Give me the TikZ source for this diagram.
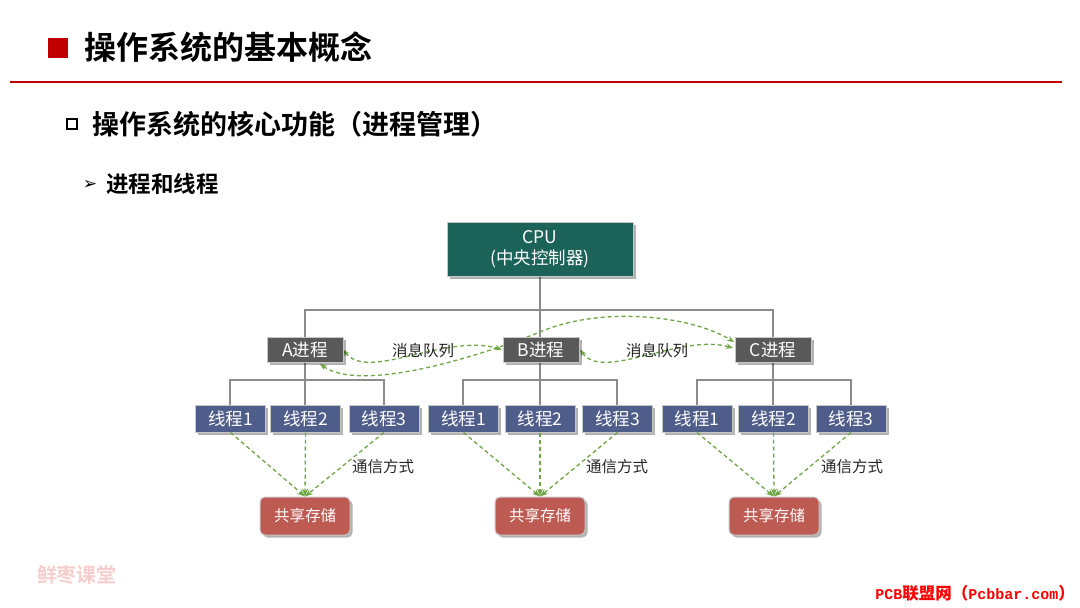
\documentclass[tikz,border=0pt]{standalone}
\usepackage{fontspec}
\setmainfont{Noto Sans CJK SC}
\newfontfamily\cjk{Noto Sans CJK SC}
\newfontfamily\cjkb{Noto Sans CJK SC Bold}
\newfontfamily\djv{DejaVu Sans}
\newfontfamily\lmono{Liberation Mono}
\usetikzlibrary{arrows.meta,shadows}
\definecolor{titlered}{RGB}{192,0,0}
\definecolor{cpuc}{RGB}{27,99,88}
\definecolor{procc}{RGB}{89,89,89}
\definecolor{thrc}{RGB}{79,93,138}
\definecolor{storec}{RGB}{189,91,82}
\definecolor{linec}{RGB}{140,140,140}
\definecolor{greenc}{RGB}{112,165,70}
\definecolor{wmpink}{RGB}{245,205,205}
\definecolor{pcbred}{RGB}{255,0,0}
\begin{document}
\begin{tikzpicture}[x=1pt,y=-1pt,
  box/.style={draw=black!22, line width=1pt, text=white, inner sep=0pt, align=center,
    drop shadow={shadow xshift=2.5pt, shadow yshift=-2.5pt, opacity=0.3, fill=black}},
  cpubox/.style={box, fill=cpuc, minimum width=186pt, minimum height=54pt, font=\cjk\fontsize{17.5}{21}\selectfont},
  procbox/.style={box, fill=procc, minimum width=76pt, minimum height=25pt, font=\cjk\fontsize{17.5}{20}\selectfont},
  thrbox/.style={box, fill=thrc, minimum width=70pt, minimum height=27pt, font=\cjk\fontsize{17.5}{20}\selectfont},
  storebox/.style={box, fill=storec, rounded corners=5pt, minimum width=90pt, minimum height=38pt, font=\cjk\fontsize{15.5}{18}\selectfont},
  tree/.style={draw=linec, line width=1.3pt},
  msg/.style={draw=greenc, line width=1.3pt, dash pattern=on 4pt off 3pt,
    {Stealth[length=7pt,width=5.5pt]}-{Stealth[length=7pt,width=5.5pt]}},
  comm/.style={draw=greenc, line width=1.3pt, dash pattern=on 4pt off 3pt,
    -{Stealth[length=8pt,width=6pt]}},
  lbl/.style={font=\cjk\fontsize{15.5}{18}\selectfont, text=black!85, inner sep=1pt}
]
\useasboundingbox (0,0) rectangle (1080,608);

% header
\node[fill=titlered, minimum width=20pt, minimum height=20pt, inner sep=0pt] (tsq) at (58,48) {};
\node[anchor=west, font=\cjkb\fontsize{32}{36}\selectfont, inner sep=0pt] (title) at (84,47.5) {操作系统的基本概念};
\draw[titlered, line width=1.6pt] (10,82) -- (1062,82);
\node[draw=black, line width=2pt, minimum width=10pt, minimum height=10pt, inner sep=0pt] (hsq) at (72,124) {};
\node[anchor=west, font=\cjkb\fontsize{27}{30}\selectfont, inner sep=0pt] (sub) at (92,124) {操作系统的核心功能（进程管理）};
\node[font=\djv\fontsize{17}{19}\selectfont, inner sep=0pt] (bul) at (90,184.5) {➢};
\node[anchor=west, font=\cjkb\fontsize{22.5}{26}\selectfont, inner sep=0pt] (subsub) at (106,184) {进程和线程};

% coordinates
\coordinate (busTop) at (540,310);
\coordinate (busA) at (305,380);
\coordinate (busB) at (540,380);
\coordinate (busC) at (773,380);

% tree connectors (drawn first, boxes cover their ends)
\path (540,249) coordinate (cpuc0);
\path (305,349.5) coordinate (Ac) (540,349.5) coordinate (Bc) (773,349.5) coordinate (Cc);
\draw[tree] (cpuc0) -- (Bc);
\draw[tree] (Ac) |- (busTop) -| (Cc);
\draw[tree] (Ac) -- (305,418);
\draw[tree] (230,418) |- (busA) -| (384,418);
\draw[tree] (Bc) -- (540,418);
\draw[tree] (463,418) |- (busB) -| (617,418);
\draw[tree] (Cc) -- (773,418);
\draw[tree] (697,418) |- (busC) -| (851,418);

% message curves (behind boxes)
\path (343,349.5) coordinate (Ae) (502,349.5) coordinate (Bw) (580,349.5) coordinate (Be) (735,349.5) coordinate (Cw);
\draw[msg] (Ae) .. controls (368,382) and (445,333) .. (Bw);
\draw[msg] (320,364) .. controls (360,392) and (470,360) .. (540,332) .. controls (600,306) and (690,315) .. (734,342);
\draw[msg] (Be) .. controls (603,382) and (680,333) .. (733,348);

% boxes
\node[cpubox] (cpu) at (540,249) {CPU\\(中央控制器)};
\node[procbox] (A) at (305,349.5) {A进程};
\node[procbox] (B) at (541,349.5) {B进程};
\node[procbox] (C) at (773,349.5) {C进程};

\node[thrbox] (a1) at (230.5,418.5) {线程1};
\node[thrbox] (a2) at (305.5,418.5) {线程2};
\node[thrbox] (a3) at (384,418.5) {线程3};
\node[thrbox] (b1) at (463.5,418.5) {线程1};
\node[thrbox] (b2) at (540,418.5) {线程2};
\node[thrbox] (b3) at (617.5,418.5) {线程3};
\node[thrbox] (c1) at (697,418.5) {线程1};
\node[thrbox] (c2) at (773.5,418.5) {线程2};
\node[thrbox] (c3) at (851,418.5) {线程3};

\node[storebox] (sa) at (305,516) {共享存储};
\node[storebox] (sb) at (540,516) {共享存储};
\node[storebox] (sc) at (774,516) {共享存储};

% labels
\node[lbl] (ma) at (423,351) {消息队列};
\node[lbl] (mb) at (657,351) {消息队列};
\node[lbl] (ta) at (383,467) {通信方式};
\node[lbl] (tb) at (617,467) {通信方式};
\node[lbl] (tc) at (852,467) {通信方式};

% communication arrows
\foreach \g in {a,b,c}{
  \draw[comm] (\g1.south) -- (s\g.north);
  \draw[comm] (\g2.south) -- (s\g.north);
  \draw[comm] (\g3.south) -- (s\g.north);
}

% watermarks
\node[font=\cjkb\fontsize{20}{24}\selectfont, text=wmpink, inner sep=0pt] (wm) at (77,575) {鲜枣课堂};
\node[anchor=east, text=pcbred, inner sep=0pt] (pcb) at (1075,593)
  {\lmono\bfseries\fontsize{15}{18}\selectfont PCB\cjkb\fontsize{16.5}{20}\selectfont 联盟网（\lmono\bfseries\fontsize{15}{18}\selectfont Pcbbar.com\cjkb\fontsize{16.5}{20}\selectfont ）};
\end{tikzpicture}
\end{document}
